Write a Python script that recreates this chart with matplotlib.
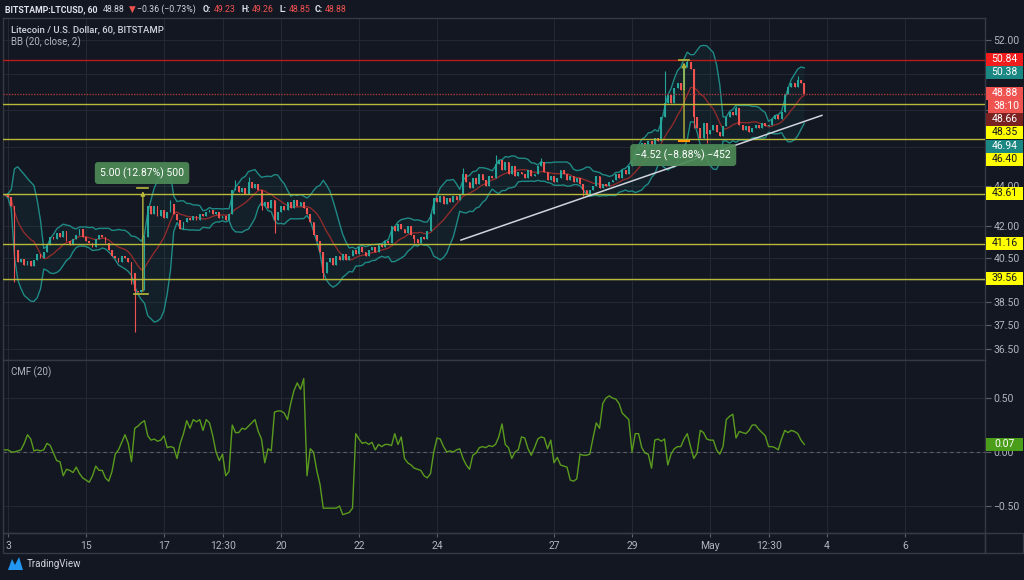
import numpy as np
import pandas as pd
import matplotlib
matplotlib.use("Agg")
import matplotlib.pyplot as plt
import matplotlib.dates as mdates
from matplotlib.patches import Rectangle, Polygon
from matplotlib.ticker import FixedLocator, FixedFormatter, NullLocator, NullFormatter

# ---------------- data ----------------
start_time = "2020-04-12 22:00"      # 2-hour candles
first_open = 43.60
closes = [
    43.55, 43.45, 43.00, 40.90, 40.30, 40.45, 40.20, 40.35, 40.15, 40.40,
    40.70, 40.50, 40.80, 41.10, 41.50, 41.40, 41.70, 41.50, 41.80, 41.30,
    41.10, 41.40, 41.60, 41.90, 41.50, 41.30, 41.20, 41.00, 41.40, 41.60,
    41.50, 41.20, 40.90, 40.60, 40.50, 40.30, 40.60, 40.50, 40.30, 39.80,
    39.00, 38.95, 39.05, 41.50, 43.00, 42.60, 43.00, 42.50, 42.80, 42.40,
    42.70, 43.10, 42.60, 42.30, 41.90, 42.20, 42.40, 42.30, 42.50, 42.30,
    42.60, 42.50, 42.70, 42.80, 42.60, 42.70, 42.40, 42.50, 42.30, 42.60,
    43.80, 44.00, 43.70, 43.90, 43.60, 44.20, 43.90, 44.10, 43.80, 43.00,
    43.20, 42.90, 43.30, 42.30, 42.70, 43.00, 42.80, 43.20, 42.90, 43.30,
    43.00, 43.20, 42.90, 42.60, 42.20, 41.60, 41.30, 40.80, 39.80, 40.30,
    40.50, 40.20, 40.60, 40.40, 40.70, 40.40, 40.60, 40.90, 40.70, 41.00,
    40.80, 40.60, 40.90, 41.00, 40.80, 41.10, 41.00, 41.30, 41.20, 42.00,
    41.80, 42.10, 41.90, 41.70, 42.00, 41.60, 41.40, 41.20, 41.50, 41.40,
    41.80, 42.60, 43.40, 43.20, 43.50, 43.10, 43.40, 43.20, 43.50, 43.30,
    43.60, 44.60, 44.20, 43.90, 44.40, 44.10, 44.60, 44.30, 44.00, 44.50,
    44.40, 45.10, 45.30, 44.80, 45.20, 44.60, 45.00, 44.50, 44.70, 44.60,
    44.40, 44.80, 44.50, 44.60, 45.00, 45.20, 44.70, 44.30, 44.50, 44.20,
    44.40, 44.80, 44.60, 44.30, 44.50, 44.20, 44.40, 44.10, 43.80, 43.60,
    43.80, 44.00, 44.50, 43.90, 44.10, 44.00, 44.20, 44.30, 44.60, 44.40,
    44.80, 44.60, 45.00, 45.30, 45.80, 46.00, 46.20, 45.90, 46.30, 46.10,
    46.50, 46.30, 47.60, 48.40, 48.80, 48.40, 49.20, 49.50, 49.10, 50.40,
    50.70, 50.30, 47.60, 47.00, 46.50, 47.30, 46.70, 46.90, 47.20, 46.80,
    46.60, 47.10, 47.60, 47.90, 47.70, 48.10, 47.20, 46.90, 47.10, 46.80,
    47.00, 47.20, 47.00, 47.30, 47.10, 47.20, 47.50, 47.70, 47.50, 47.90,
    48.90, 49.30, 49.50, 49.30, 49.70, 49.50, 48.88,
]
wick_highs = {43: 41.6, 51: 43.3, 71: 44.3, 75: 44.45, 141: 44.9, 151: 45.6,
              165: 45.4, 203: 50.2, 210: 50.84, 225: 48.2, 244: 49.9}
wick_lows = {3: 39.4, 39: 39.3, 40: 37.2, 79: 42.8, 83: 41.7, 98: 39.55,
             126: 41.2, 178: 43.5, 212: 47.0, 216: 46.2}

cmf = [
    0.02, 0.02, 0.00, 0.00, 0.01, 0.02, 0.08, 0.16, 0.12, 0.01,
    0.02, 0.01, 0.02, 0.08, 0.06, -0.01, -0.08, -0.09, -0.22, -0.16,
    -0.17, -0.19, -0.14, -0.20, -0.24, -0.26, -0.28, -0.22, -0.13, -0.17,
    -0.17, -0.24, -0.27, -0.18, -0.02, 0.02, 0.09, 0.16, 0.08, -0.09,
    0.22, 0.24, 0.27, 0.29, 0.15, 0.11, 0.12, 0.10, 0.11, 0.15,
    0.04, 0.05, 0.04, -0.06, 0.08, 0.17, 0.29, 0.22, 0.30, 0.28,
    0.30, 0.20, 0.30, 0.27, 0.15, 0.00, -0.08, -0.02, -0.22, -0.18,
    0.25, 0.18, 0.18, 0.22, 0.21, 0.24, 0.27, 0.30, 0.19, 0.12,
    -0.10, 0.03, 0.01, 0.37, 0.38, 0.38, 0.36, 0.30, 0.45, 0.57,
    0.64, 0.58, 0.68, -0.22, 0.03, 0.00, -0.17, -0.30, -0.52, -0.52,
    -0.52, -0.52, -0.52, -0.50, -0.58, -0.57, -0.56, -0.52, 0.17, 0.12,
    0.08, 0.09, 0.07, 0.09, 0.02, 0.07, 0.05, 0.07, 0.07, 0.06,
    0.17, 0.07, 0.14, -0.06, -0.10, -0.12, -0.15, -0.16, -0.17, -0.22,
    -0.24, -0.20, 0.00, 0.13, 0.12, 0.05, 0.00, 0.01, 0.00, 0.02,
    0.03, -0.06, -0.12, -0.16, -0.03, -0.01, 0.04, 0.05, 0.04, 0.06,
    0.05, 0.07, 0.14, 0.26, 0.07, 0.04, -0.06, 0.00, 0.02, 0.14,
    0.13, 0.03, -0.03, 0.04, 0.12, 0.14, 0.13, 0.03, 0.11, -0.10,
    -0.05, -0.12, -0.13, -0.14, -0.26, -0.27, -0.25, -0.02, -0.03, -0.03,
    -0.02, 0.13, 0.27, 0.22, 0.45, 0.50, 0.52, 0.50, 0.49, 0.45,
    0.36, 0.33, 0.30, 0.00, 0.17, 0.17, 0.04, -0.01, -0.02, -0.15,
    0.11, 0.12, 0.10, 0.12, -0.12, -0.02, 0.03, 0.05, 0.05, 0.12,
    0.17, 0.05, -0.06, -0.01, 0.20, 0.18, 0.12, 0.11, 0.11, 0.02,
    -0.02, 0.05, 0.30, 0.33, 0.35, 0.13, 0.19, 0.18, 0.17, 0.20,
    0.25, 0.25, 0.21, 0.18, 0.15, 0.05, 0.05, 0.04, 0.02, 0.12,
    0.20, 0.18, 0.20, 0.19, 0.17, 0.11, 0.07,
]

support_levels = [48.35, 46.40, 43.61, 41.16, 39.56]
resistance_level = 50.84
last_price = 48.88
trend_start = ("2020-04-24 14:45", 41.35)
trend_end = ("2020-05-03 20:50", 47.70)
measure_up = ("2020-04-16 11:00", 38.87, 43.87, "5.00 (12.87%) 500", "2020-04-16 10:30", 44.65)
measure_down = ("2020-04-30 08:00", 50.84, 46.32, "\u22124.52 (\u22128.88%) \u2212452", "2020-04-30 07:30", 45.58)

price_ticks = [36.5, 37.5, 38.5, 39.5, 40.5, 42.0, 44.0, 46.0, 48.0, 50.0, 52.0]
# labels hidden behind the price tags on the right are left blank
price_tick_labels = ["36.50", "37.50", "38.50", "", "40.50", "42.00", "44.00", "", "", "", "52.00"]
cmf_ticks = [-0.5, 0.0, 0.5]
cmf_tick_labels = ["\u22120.50", "0.00", "0.50"]
x_tick_dates = ["2020-04-13", "2020-04-15", "2020-04-17", "2020-04-18 12:30", "2020-04-20",
                "2020-04-22", "2020-04-24", "2020-04-27", "2020-04-29", "2020-05-01",
                "2020-05-02 12:30", "2020-05-04", "2020-05-06"]
x_tick_labels = ["3", "15", "17", "12:30", "20", "22", "24", "27", "29", "May", "12:30", "4", "6"]

# right-axis labels: (text, center y px, face, text colour)
axis_tags = [
    ("50.84", 59, "#f21c1c", "white"),
    ("50.38", 72, "#1b8783", "white"),
    ("48.88", 93, "#ef5350", "white"),
    ("38:10", 106, "#ef5350", "white"),
    ("48.66", 119, "#7a2222", "white"),
    ("48.35", 132, "#ffff00", "#131722"),
    ("46.94", 146, "#1b8783", "white"),
    ("46.40", 159, "#ffff00", "#131722"),
    ("43.61", 193, "#ffff00", "#131722"),
    ("41.16", 243, "#ffff00", "#131722"),
    ("39.56", 278, "#ffff00", "#131722"),
    ("0.07", 444, "#4a9e19", "white"),
]

# ---------------- style ----------------
W, H = 1024, 580
BG = "#131722"
GRID = "#242832"
BORDER = "#363a45"
TXT = "#b2b5be"
UP, DOWN = "#26a69a", "#ef5350"
YEL = "#b9b93a"
plt.rcParams["font.family"] = ["Roboto", "DejaVu Sans"]

closes_arr = np.array(closes)
opens = np.r_[first_open, closes_arr[:-1]]
highs = np.maximum(opens, closes_arr)
lows = np.minimum(opens, closes_arr)
for k, v in wick_highs.items():
    highs[k] = max(highs[k], v)
for k, v in wick_lows.items():
    lows[k] = min(lows[k], v)

times = pd.date_range(start_time, periods=len(closes), freq="2h")
x = mdates.date2num(times.to_pydatetime())

s = pd.Series(closes_arr)
basis = s.rolling(10, min_periods=1).mean()
dev = s.rolling(10, min_periods=1).std(ddof=0)
upper = basis + 2 * dev
lower = basis - 2 * dev

def d2n(t):
    return mdates.date2num(pd.Timestamp(t).to_pydatetime())

fig = plt.figure(figsize=(W / 100, H / 100), dpi=100, facecolor=BG)
axm = fig.add_axes([3 / W, 1 - 360 / H, 982 / W, 342 / H], facecolor=BG)
axc = fig.add_axes([3 / W, 1 - 533 / H, 982 / W, 173 / H], facecolor=BG, sharex=axm)

xl = (d2n("2020-04-12 20:56"), d2n("2020-05-08 01:12"))
xt = [d2n(t) for t in x_tick_dates]

for ax in (axm, axc):
    for sp in ax.spines.values():
        sp.set_color(BORDER)
        sp.set_linewidth(1)
    ax.set_xlim(*xl)
    ax.xaxis.set_major_locator(FixedLocator(xt))
    ax.xaxis.set_minor_locator(NullLocator())
    ax.grid(True, color=GRID, lw=0.8, zorder=0)
    ax.set_axisbelow(True)
    ax.yaxis.tick_right()

# main panel
axm.set_yscale("log")
axm.set_ylim(36.04, 53.33)
axm.yaxis.set_major_locator(FixedLocator(price_ticks))
axm.yaxis.set_major_formatter(FixedFormatter(price_tick_labels))
axm.yaxis.set_minor_locator(NullLocator())
axm.yaxis.set_minor_formatter(NullFormatter())
axm.tick_params(axis="y", which="major", length=4, width=0.8, color="#5d606b",
                labelcolor=TXT, labelsize=7.5, pad=2)
axm.tick_params(axis="x", which="both", length=0, labelbottom=False)

axm.fill_between(x, lower, upper, color="#1e8c86", alpha=0.07, lw=0, zorder=1)
axm.plot(x, upper, color="#1f8a85", lw=1, zorder=1.2)
axm.plot(x, lower, color="#1f8a85", lw=1, zorder=1.2)
axm.plot(x, basis, color="#8e2b2b", lw=1, zorder=1.2)

cols = np.where(closes_arr >= opens, UP, DOWN)
axm.vlines(x, lows, highs, colors=cols, lw=0.8, zorder=2)
body_h = np.maximum(np.abs(closes_arr - opens), 0.03)
axm.bar(x, body_h, width=0.05, bottom=np.minimum(opens, closes_arr), color=cols,
        lw=0, zorder=2.5)

for lvl in support_levels:
    axm.axhline(lvl, color=YEL, lw=1, zorder=4)
axm.axhline(resistance_level, color="#b71c1c", lw=1, zorder=4)
axm.axhline(last_price, color="#a33a3a", lw=1, ls=(0, (1, 1)), zorder=4)

axm.plot([d2n(trend_start[0]), d2n(trend_end[0])], [trend_start[1], trend_end[1]],
         color="#d1d4dc", lw=1.1, zorder=5)

# measure tools
def measure(m, top_col, up_arrow):
    xd, lo, hi, label, lx, ly = m
    xd = d2n(xd)
    half = 0.14
    if up_arrow:
        axm.annotate("", xy=(xd, hi), xytext=(xd, lo),
                     arrowprops=dict(arrowstyle="-|>", color=YEL, lw=1, mutation_scale=6), zorder=6)
        axm.plot([xd - half, xd + half], [hi, hi], color=YEL, lw=1.2, zorder=6)
        axm.plot([xd - half - 0.1, xd + half], [lo, lo], color=YEL, lw=1.2, zorder=6)
    else:
        axm.annotate("", xy=(xd, lo), xytext=(xd, hi),
                     arrowprops=dict(arrowstyle="->", color=YEL, lw=1, mutation_scale=7), zorder=6)
        axm.plot([xd - half, xd + half], [hi, hi], color=top_col, lw=1.5, zorder=6)
        axm.plot([xd - half, xd + half], [lo, lo], color=YEL, lw=1.2, zorder=6)
    axm.text(d2n(lx), ly, label, ha="center", va="center", color="white", fontsize=7.5,
             zorder=7, bbox=dict(boxstyle="round,pad=0.5,rounding_size=0.3",
                                 fc="#4d8a57", ec="none", alpha=0.92))

measure(measure_up, YEL, True)
measure(measure_down, "#ff9800", False)

# CMF panel
axc.set_ylim(-0.75, 0.852)
axc.yaxis.set_major_locator(FixedLocator(cmf_ticks))
axc.yaxis.set_major_formatter(FixedFormatter(cmf_tick_labels))
axc.tick_params(axis="y", length=4, width=0.8, color="#5d606b", labelcolor=TXT, labelsize=7.5, pad=2)
axc.tick_params(axis="x", length=3, width=0.8, color="#5d606b", labelcolor=TXT, labelsize=7.5, pad=3)
axc.set_xticklabels(x_tick_labels)
axc.axhline(0, color="#5d606b", lw=0.8, ls=(0, (3, 3)), zorder=1)
axc.plot(x, cmf, color="#5a9b1e", lw=1, zorder=3)

# x-axis strip and borders
def frect(x0, y0, x1, y1, **kw):
    fig.add_artist(Rectangle((x0 / W, 1 - y1 / H), (x1 - x0) / W, (y1 - y0) / H,
                             transform=fig.transFigure, **kw))

frect(3, 533, 985, 553, fill=False, ec=BORDER, lw=1)
frect(985, 533, 1023, 553, fill=False, ec=BORDER, lw=1)

for text, yc, fc, tc in axis_tags:
    x0 = 988 if text == "38:10" else 985.5
    frect(x0, yc - 6.5, 1023, yc + 6.5, fc=fc, ec="none", zorder=10)
    fig.text((x0 + 1023) / 2 / W + 0.5 / W, 1 - yc / H, text, ha="center", va="center",
             color=tc, fontsize=7.5, zorder=11)

# header
hy = 1 - 9.5 / H
pieces = [
    (5, "BITSTAMP:LTCUSD, 60", "#e0e3eb", "bold"),
    (103, "48.88", "#d1d4dc", "normal"),
    (128.5, "\u25bc", "#ef5350", "normal"),
    (137, "\u22120.36 (\u22120.73%)", "#d1d4dc", "normal"),
    (203, "O:", "#e0e3eb", "bold"),
    (214, "49.23", "#ef5350", "normal"),
    (241, "H:", "#e0e3eb", "bold"),
    (252, "49.26", "#ef5350", "normal"),
    (279, "L:", "#e0e3eb", "bold"),
    (289, "48.85", "#ef5350", "normal"),
    (315, "C:", "#e0e3eb", "bold"),
    (325, "48.88", "#ef5350", "normal"),
]
for px, t, c, wgt in pieces:
    fig.text(px / W, hy, t, ha="left", va="center", color=c, fontsize=6.3, fontweight=wgt)

fig.text(11 / W, 1 - 29.5 / H, "Litecoin / U.S. Dollar, 60, BITSTAMP", ha="left", va="center",
         color="#d1d4dc", fontsize=6.8, fontweight="medium")
fig.text(11 / W, 1 - 42.5 / H, "BB (20, close, 2)", ha="left", va="center", color=TXT, fontsize=7)
fig.text(11 / W, 1 - 372.5 / H, "CMF (20)", ha="left", va="center", color=TXT, fontsize=7)

# footer logo
logo = [(8, 570), (12, 559), (15, 565), (19, 557), (23, 570)]
fig.add_artist(Polygon([(px / W, 1 - py / H) for px, py in logo], closed=True,
                       transform=fig.transFigure, fc="#2196f3", ec="none"))
fig.text(27 / W, 1 - 564 / H, "TradingView", ha="left", va="center", color="#d1d4dc", fontsize=7)

fig.savefig("out.png", dpi=100, facecolor=BG)
